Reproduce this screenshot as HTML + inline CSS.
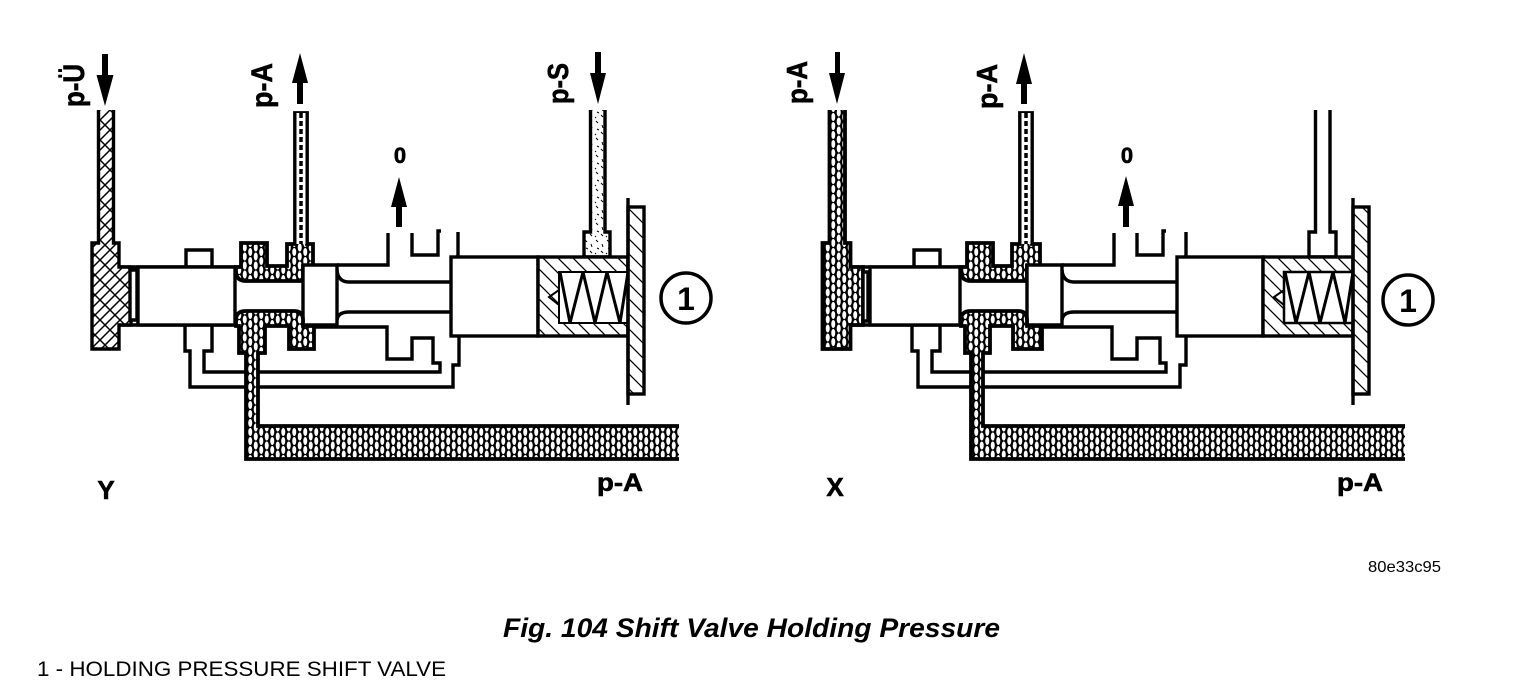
<!DOCTYPE html>
<html>
<head>
<meta charset="utf-8">
<style>
html,body{margin:0;padding:0;background:#fff;width:1536px;height:682px;overflow:hidden}
svg{display:block}
text{font-family:"Liberation Sans",sans-serif;fill:#000}
.b{font-weight:bold}
.k{stroke:#000;stroke-width:.6}
.l{fill:none;stroke:#000;stroke-width:3.4;stroke-linejoin:miter}
.t{fill:none;stroke:#000;stroke-width:2}
.w{fill:#fff;stroke:#000;stroke-width:3.4}
.d{fill:url(#dense);stroke:#000;stroke-width:3.8}
.x{fill:url(#cross);stroke:#000;stroke-width:3.4}
.h{fill:url(#hatch);stroke:#000;stroke-width:3.4}
.s{fill:url(#speck);stroke:#000;stroke-width:3.4}
.c{fill:none;stroke:#000;stroke-width:3.5;stroke-dasharray:5 3}
</style>
</head>
<body>
<svg width="1536" height="682" viewBox="0 0 1536 682" xmlns="http://www.w3.org/2000/svg">
<defs>
<pattern id="dense" width="11" height="9" patternUnits="userSpaceOnUse">
<rect width="11" height="9" fill="#000"/>
<ellipse cx="2.75" cy="4.5" rx="2" ry="4" fill="#fff"/>
<ellipse cx="8.25" cy="0" rx="2" ry="4" fill="#fff"/>
<ellipse cx="8.25" cy="9" rx="2" ry="4" fill="#fff"/>
</pattern>
<pattern id="cross" width="20" height="20" patternUnits="userSpaceOnUse">
<rect width="20" height="20" fill="#fff"/>
<path d="M-2 22L22-2M-2 12L12-2M8 22L22 8" stroke="#000" stroke-width="1.500"/>
<path d="M-2-2L22 22" stroke="#000" stroke-width="1.500"/>
</pattern>
<pattern id="hatch" width="15" height="15" patternUnits="userSpaceOnUse">
<rect width="15" height="15" fill="#fff"/>
<path d="M-2-2L17 17M-2 13L2 17M13-2L17 2" stroke="#000" stroke-width="1.300"/>
</pattern>
<pattern id="speck" width="11" height="17" patternUnits="userSpaceOnUse">
<rect width="11" height="17" fill="#fff"/>
<path d="M2 2l2 2M8 6l1 3M3 10l2 1M7 13l2 2M1 15l1 1" stroke="#000" stroke-width="1"/>
</pattern>
</defs>

<!-- LEFT VALVE -->
<path class="l" d="M119 267H241M119 325H239M138 267V325"/>
<rect class="w" x="138" y="267" width="97" height="58"/>
<path class="l" d="M186 267V250H212V267M185 325V351H190V387H453V365H459V336M212 325V351H204V372H440V363H433V338H412V359H387V327H314"/>
<path class="x" d="M98.500 110V243H92V349H119V325H131V267H119V243H113.500V110"/>
<path class="w" d="M130 270H137V320H130Z" stroke-width="2.500"/>
<path class="d" d="M236 267H241V243H267V266H287V244H295V113H307V244H313V266H303V281H246Q236 281 236 271Z"/>
<rect x="296.500" y="113" width="9" height="131" fill="#fff"/>
<path class="c" d="M301 113V244"/>
<path class="w" d="M303 265H337V325H303Z"/>
<path class="l" d="M337 265H388V233M412 233V255H438V231H441M458 232V257M337 270Q338 282 349 282H451M337 320Q338 312 349 312H451"/>
<path class="d" d="M679 426H258V353H265V326H289V349H314V326H303V320Q303 311 294 311H246Q236 311 236 320V326H239V353H246V459H679"/>
<rect class="w" x="451" y="257" width="87" height="79"/>
<path class="s" d="M590.500 110V232H584V257H610V232H605V110"/>
<rect class="h" x="538" y="257" width="90" height="79"/>
<rect x="559" y="272" width="69" height="51" fill="#fff" stroke="#000" stroke-width="2"/>
<path class="t" d="M559 290L549 297L559 305"/>
<path d="M560 272L570 323L583 272L595 323L607 272L620 323L628 272" fill="none" stroke="#000" stroke-width="3"/>
<rect class="h" x="628" y="207" width="16" height="187"/>
<path class="l" d="M628 198V405"/>
<circle cx="686" cy="298" r="25" fill="#fff" stroke="#000" stroke-width="3.500"/>
<text class="b" x="686" y="310" font-size="32" text-anchor="middle">1</text>

<!-- RIGHT VALVE -->
<path class="l" d="M851 267H967M851 325H965"/>
<rect class="w" x="870" y="267" width="90" height="58"/>
<path class="l" d="M914 267V250H940V267M912 325V351H918V387H1180V365H1186V336M940 325V351H932V372H1166V363H1160V338H1137V359H1112V327H1042"/>
<path class="d" d="M829.500 110V243H822.500V349H850.500V325H863V267H850.500V243H845V110"/>
<path class="w" d="M863 272H868V321H863Z" stroke-width="2.500"/>
<path class="d" d="M961 267H967V243H993V266H1012V244H1020V113H1032V244H1040V266H1027V281H971Q961 281 961 271Z"/>
<rect x="1021.500" y="113" width="9" height="131" fill="#fff"/>
<path class="c" d="M1026 113V244"/>
<path class="w" d="M1027 265H1062V325H1027Z"/>
<path class="l" d="M1062 265H1114V233M1137 233V255H1163V231H1166M1186 232V257M1062 270Q1063 282 1074 282H1177M1062 320Q1063 312 1074 312H1177"/>
<path class="d" d="M1405 426H983V353H990V326H1013V349H1042V326H1027V320Q1027 311 1018 311H971Q961 311 961 320V326H965V353H971V459H1405"/>
<rect class="w" x="1177" y="257" width="86" height="79"/>
<path class="l" d="M1315.500 110V232H1309V257H1336V232H1330V110"/>
<rect class="h" x="1263" y="257" width="90" height="79"/>
<rect x="1284" y="272" width="69" height="51" fill="#fff" stroke="#000" stroke-width="2.500"/>
<path class="t" d="M1284 290L1274 297L1284 305"/>
<path d="M1285 272L1296 323L1309 272L1320 323L1333 272L1345 323L1353 272" fill="none" stroke="#000" stroke-width="3"/>
<rect class="h" x="1353" y="207" width="16" height="187"/>
<path class="l" d="M1353 198V405"/>
<circle cx="1408" cy="300" r="25" fill="#fff" stroke="#000" stroke-width="3.500"/>
<text class="b" x="1408" y="312" font-size="32" text-anchor="middle">1</text>

<!-- ARROWS -->
<path d="M102 54H108V75H113.500L105 106L96.500 75H102Z"/>
<path d="M300 53L308 83H303V104H297V83H292Z"/>
<path d="M595 52H601V73H606L598 104L590 73H595Z"/>
<path d="M399 177L407 207H402V227H396V207H391Z"/>
<path d="M835 52H840V73H845L837 104L829 73H835Z"/>
<path d="M1024 53L1032 84H1027V104H1021V84H1016Z"/>
<path d="M1126 176L1134 206H1129V227H1123V206H1118Z"/>

<!-- LABELS -->
<text class="b k" transform="translate(84 107) rotate(-90)" font-size="30" textLength="43" lengthAdjust="spacingAndGlyphs">p-Ü</text>
<text class="b k" transform="translate(272 108) rotate(-90)" font-size="30" textLength="45" lengthAdjust="spacingAndGlyphs">p-A</text>
<text class="b k" transform="translate(568 104) rotate(-90)" font-size="29" textLength="41" lengthAdjust="spacingAndGlyphs">p-S</text>
<text class="b k" transform="translate(807 104) rotate(-90)" font-size="29" textLength="43" lengthAdjust="spacingAndGlyphs">p-A</text>
<text class="b k" transform="translate(997 109) rotate(-90)" font-size="29" textLength="45" lengthAdjust="spacingAndGlyphs">p-A</text>
<text class="b k" x="400" y="163" font-size="22" text-anchor="middle">0</text>
<text class="b k" x="1127" y="163" font-size="22" text-anchor="middle">0</text>
<text class="b k" x="106" y="499" font-size="26" text-anchor="middle">Y</text>
<text class="b k" x="835" y="496" font-size="26" text-anchor="middle">X</text>
<text class="b k" x="597" y="491" font-size="25" textLength="46" lengthAdjust="spacingAndGlyphs">p-A</text>
<text class="b k" x="1337" y="491" font-size="25" textLength="46" lengthAdjust="spacingAndGlyphs">p-A</text>
<text x="1368" y="572" font-size="16" textLength="73" lengthAdjust="spacingAndGlyphs">80e33c95</text>
<text x="503" y="637" font-size="27" font-weight="bold" font-style="italic" textLength="497" lengthAdjust="spacingAndGlyphs">Fig. 104 Shift Valve Holding Pressure</text>
<text x="37" y="676" font-size="21" textLength="409" lengthAdjust="spacingAndGlyphs">1 - HOLDING PRESSURE SHIFT VALVE</text>
</svg>
</body>
</html>
